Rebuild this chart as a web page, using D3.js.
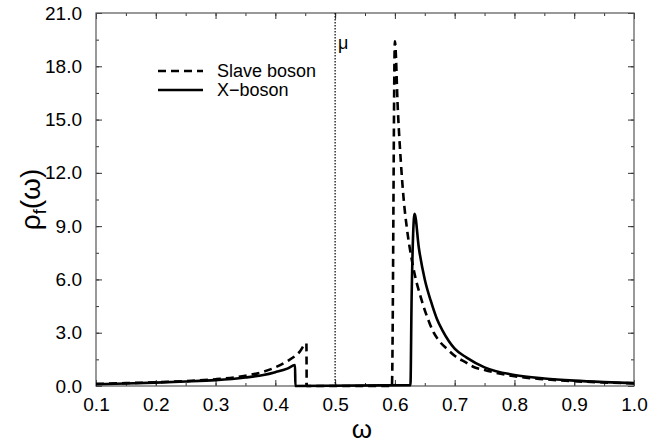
<!DOCTYPE html>
<html>
<head>
<meta charset="utf-8">
<script src="https://cdn.jsdelivr.net/npm/d3@7"></script>
<style>
  body { margin: 0; background: #fff; }
  text { font-family: "Liberation Sans", Arial, Helvetica, sans-serif; fill: #000; }
</style>
</head>
<body>
<div id="chart"></div>
<script>
// slave boson (dashed)
const slaveW = [0.10, 0.15, 0.20, 0.25, 0.30, 0.35, 0.38, 0.40, 0.42, 0.44, 0.452, 0.4525, 0.595, 0.600, 0.605, 0.610, 0.615, 0.620, 0.630, 0.645, 0.655, 0.665, 0.675, 0.690, 0.700, 0.720, 0.730, 0.750, 0.800, 0.850, 0.900, 0.950, 1.000];
const slaveRho = [0.12, 0.16, 0.21, 0.28, 0.38, 0.58, 0.80, 1.05, 1.40, 1.90, 2.40, 0.0, 0.0, 19.4, 15.5, 12.6, 10.4, 8.9, 6.8, 4.8, 3.8, 3.0, 2.5, 2.0, 1.7, 1.3, 1.1, 0.9, 0.55, 0.38, 0.27, 0.20, 0.15];

// X-boson (solid)
const xbosW = [0.10, 0.15, 0.20, 0.25, 0.30, 0.35, 0.38, 0.40, 0.42, 0.433, 0.4335, 0.626, 0.628, 0.633, 0.640, 0.650, 0.660, 0.670, 0.680, 0.700, 0.720, 0.750, 0.800, 0.850, 0.900, 0.950, 1.000];
const xbosRho = [0.10, 0.14, 0.19, 0.25, 0.33, 0.48, 0.62, 0.78, 0.98, 1.18, 0.0, 0.05, 5.0, 9.7, 7.8, 6.0, 4.8, 3.8, 3.1, 2.1, 1.6, 1.05, 0.62, 0.42, 0.30, 0.22, 0.16];

const xTicks = [0.1, 0.2, 0.3, 0.4, 0.5, 0.6, 0.7, 0.8, 0.9, 1.0];
const yTicks = [0, 3, 6, 9, 12, 15, 18, 21];
const muValue = 0.5;
const legendLabels = ["Slave boson", "X\u2212boson"];

const width = 648, height = 443;
const margin = {top: 13, right: 14, bottom: 57, left: 96};
const iw = width - margin.left - margin.right;
const ih = height - margin.top - margin.bottom;

const svg = d3.select("#chart").append("svg")
    .attr("width", width)
    .attr("height", height);

const g = svg.append("g")
    .attr("transform", `translate(${margin.left},${margin.top})`);

const x = d3.scaleLinear().domain([0.1, 1.0]).range([0, iw]);
const y = d3.scaleLinear().domain([0, 21]).range([ih, 0]);

const xMinor = d3.range(0.1, 1.0001, 0.05);
const yMinor = d3.range(0, 21.0001, 1.5);

// axes (ticks pointing inward)
g.append("g")
    .attr("transform", `translate(0,${ih})`)
    .call(d3.axisBottom(x).tickValues(xMinor).tickSize(-3).tickFormat(""));
g.append("g")
    .attr("transform", `translate(0,${ih})`)
    .call(d3.axisBottom(x).tickValues(xTicks).tickSize(-6).tickPadding(12).tickFormat(d3.format(".1f")))
    .call(a => a.selectAll("text").attr("font-size", 19));

g.append("g")
    .call(d3.axisTop(x).tickValues(xMinor).tickSize(-3).tickFormat(""));
g.append("g")
    .call(d3.axisTop(x).tickValues(xTicks).tickSize(-6).tickFormat(""));

g.append("g")
    .call(d3.axisLeft(y).tickValues(yMinor).tickSize(-3).tickFormat(""));
g.append("g")
    .call(d3.axisLeft(y).tickValues(yTicks).tickSize(-6).tickPadding(14).tickFormat(d3.format(".1f")))
    .call(a => a.selectAll("text").attr("font-size", 19));

g.append("g")
    .attr("transform", `translate(${iw},0)`)
    .call(d3.axisRight(y).tickValues(yMinor).tickSize(-3).tickFormat(""));
g.append("g")
    .attr("transform", `translate(${iw},0)`)
    .call(d3.axisRight(y).tickValues(yTicks).tickSize(-6).tickFormat(""));

g.selectAll(".domain").remove();
g.selectAll(".tick line").attr("stroke", "#333");

// frame
g.append("rect")
    .attr("width", iw)
    .attr("height", ih)
    .attr("fill", "none")
    .attr("stroke", "#555")
    .attr("stroke-width", 1.2);

// mu line
g.append("line")
    .attr("x1", x(muValue)).attr("x2", x(muValue))
    .attr("y1", 0).attr("y2", ih)
    .attr("stroke", "#000")
    .attr("stroke-width", 1.2)
    .attr("stroke-dasharray", "1.5,1.5");

g.append("text")
    .attr("x", x(muValue) + 3)
    .attr("y", 36)
    .attr("font-size", 18)
    .text("\u03bc");

const line = d3.line()
    .curve(d3.curveMonotoneX)
    .x(d => x(d[0]))
    .y(d => y(d[1]));

const slave = slaveW.map((w, i) => [w, slaveRho[i]]);
const xbos = xbosW.map((w, i) => [w, xbosRho[i]]);

g.append("path")
    .datum(xbos)
    .attr("d", line)
    .attr("fill", "none")
    .attr("stroke", "#000")
    .attr("stroke-width", 2.6)
    .attr("stroke-linejoin", "round");

g.append("path")
    .datum(slave)
    .attr("d", line)
    .attr("fill", "none")
    .attr("stroke", "#000")
    .attr("stroke-width", 2.6)
    .attr("stroke-dasharray", "8,5");

// legend
const legend = svg.append("g").attr("transform", "translate(158,71)");
legendLabels.forEach((lab, i) => {
    legend.append("line")
        .attr("x1", 0).attr("x2", 45)
        .attr("y1", i * 19).attr("y2", i * 19)
        .attr("stroke", "#000")
        .attr("stroke-width", 2.6)
        .attr("stroke-dasharray", i === 0 ? "8,5" : null);
    legend.append("text")
        .attr("x", 59)
        .attr("y", i * 19 + 6)
        .attr("font-size", 18)
        .text(lab);
});

// axis titles
svg.append("text")
    .attr("x", margin.left + x(0.545))
    .attr("y", 438)
    .attr("text-anchor", "middle")
    .attr("font-size", 26)
    .text("\u03c9");

const yt = svg.append("text")
    .attr("transform", `translate(40,${margin.top + ih / 2}) rotate(-90)`)
    .attr("text-anchor", "middle")
    .attr("font-size", 28);
yt.append("tspan").text("\u03c1");
yt.append("tspan").attr("font-size", 18).attr("dy", 6).text("f");
yt.append("tspan").attr("dy", -6).text("(\u03c9)");
</script>
</body>
</html>
